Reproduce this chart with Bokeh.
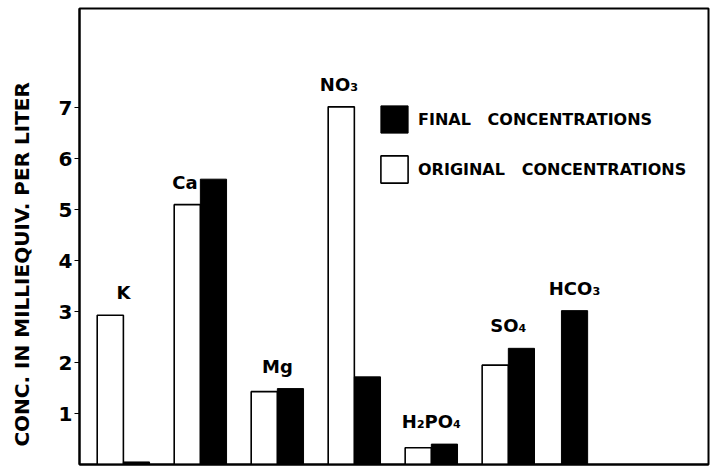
from bokeh.plotting import figure
from bokeh.models import ColumnDataSource, Legend, LegendItem, FixedTicker
from bokeh.core.properties import value
from bokeh.embed import file_html
from bokeh.resources import INLINE

# ---- data ----
ions = ["K", "Ca", "Mg", "NO₃", "H₂PO₄", "SO₄", "HCO₃"]
original = [2.93, 5.1, 1.43, 7.02, 0.33, 1.95, 0.0]
final = [0.05, 5.6, 1.49, 1.72, 0.40, 2.28, 3.02]
y_ticks = [1, 2, 3, 4, 5, 6, 7]
label_over = ["center", "orig", "center", "orig", "center", "center", "final"]

# ---- layout helpers ----
group_x = [0, 1, 2, 3, 4, 5, 5.69]
bw = 0.34
orig_x = [g - bw / 2 for g in group_x]
fin_x = [g + bw / 2 for g in group_x]

FONT = "DejaVu Sans"

p = figure(width=713, height=467, x_range=(-0.57, 7.6), y_range=(0, 8.95),
           output_backend="svg", toolbar_location=None,
           min_border_left=79, min_border_right=5, min_border_top=8, min_border_bottom=3)
p.background_fill_color = "white"
p.border_fill_color = "white"
p.outline_line_color = "black"
p.outline_line_width = 2
p.xgrid.visible = False
p.ygrid.visible = False

src_o = ColumnDataSource(dict(x=orig_x, top=original))
src_f = ColumnDataSource(dict(x=fin_x, top=final))
r_o = p.vbar(x="x", top="top", width=bw, bottom=0, source=src_o,
             fill_color="white", line_color="black", line_width=1.6)
r_f = p.vbar(x="x", top="top", width=bw, bottom=0, source=src_f,
             fill_color="black", line_color="black", line_width=1)

# labels above bars
lx, ly = [], []
for i, mode in enumerate(label_over):
    if mode == "orig":
        lx.append(orig_x[i] - 0.03); ly.append(original[i])
    elif mode == "final":
        lx.append(fin_x[i]); ly.append(final[i])
    else:
        lx.append(group_x[i]); ly.append(max(original[i], final[i]))
p.text(x=lx, y=ly, text=ions, text_align="center", text_baseline="bottom",
       y_offset=-12, text_font=value(FONT), text_font_style="bold",
       text_font_size="18px", text_color="black")

# axes
p.yaxis.ticker = FixedTicker(ticks=y_ticks)
p.yaxis.axis_line_width = 2
p.yaxis.major_tick_out = 5
p.yaxis.major_tick_in = 0
p.yaxis.minor_tick_line_color = None
p.yaxis.major_label_standoff = 2
p.yaxis.major_label_text_font = FONT
p.yaxis.major_label_text_font_style = "bold"
p.yaxis.major_label_text_font_size = "20px"
p.yaxis.major_label_text_color = "black"
p.yaxis.axis_label = "CONC.   IN   MILLIEQUIV.   PER   LITER"
p.yaxis.axis_label_text_font = FONT
p.yaxis.axis_label_text_font_style = "bold"
p.yaxis.axis_label_text_font_size = "20px"
p.yaxis.axis_label_standoff = 22
p.yaxis.axis_label_text_color = "black"

p.xaxis.ticker = FixedTicker(ticks=[])
p.xaxis.axis_line_width = 2
p.xaxis.major_tick_line_color = None
p.xaxis.minor_tick_line_color = None
p.xaxis.major_label_text_font_size = "0px"

legend = Legend(items=[LegendItem(label="FINAL   CONCENTRATIONS", renderers=[r_f]),
                       LegendItem(label="ORIGINAL   CONCENTRATIONS", renderers=[r_o])],
                location=(298, 278), orientation="vertical",
                glyph_width=34, glyph_height=34, spacing=16, label_standoff=7,
                padding=0, margin=0, border_line_color=None,
                background_fill_alpha=0,
                label_text_font=FONT, label_text_font_style="bold",
                label_text_font_size="16px", label_text_color="black")
p.add_layout(legend)

open("out.html", "w").write(file_html(p, INLINE))
